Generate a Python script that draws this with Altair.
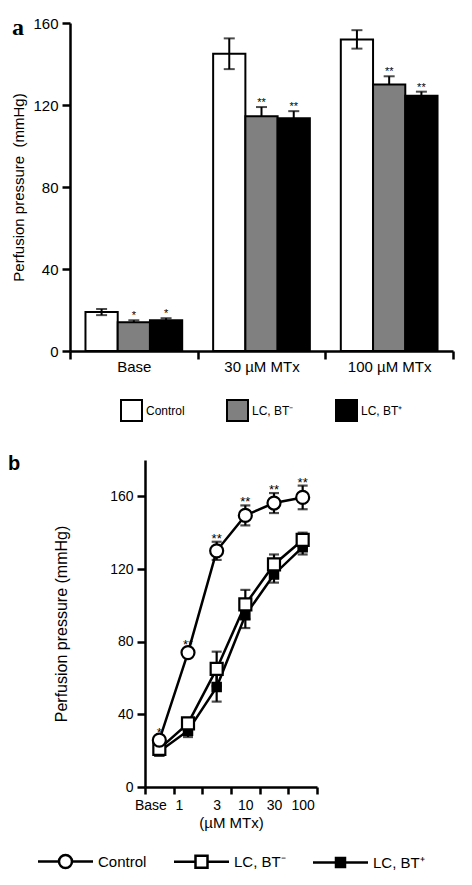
import altair as alt
import pandas as pd

FONT = "Liberation Sans"

# ---------------- Panel a data ----------------
groups = ["Base", "30 µM MTx", "100 µM MTx"]
series = ["Control", "LC, BT⁻", "LC, BT⁺"]

a_control = [19, 145, 152]
a_control_sem = [1.5, 7.5, 4.5]
a_control_sig = ["", "", ""]
a_btminus = [14, 114.5, 130]
a_btminus_sem = [1, 4.5, 4]
a_btminus_sig = ["*", "**", "**"]
a_btplus = [15, 113.5, 124.5]
a_btplus_sem = [1, 3.5, 2]
a_btplus_sig = ["*", "**", "**"]

# ---------------- Panel b data ----------------
doses = ["Base", "1", "3", "10", "30", "100"]
b_control = [25.8, 74, 130, 149.5, 156.3, 159.4]
b_control_sem = [2, 2.5, 5, 5.5, 5.5, 6.5]
b_control_sig = ["*", "**", "**", "**", "**", "**"]
b_btminus = [21, 35, 65, 100.5, 122.5, 136]
b_btminus_sem = [1.5, 3, 9.5, 8, 5.5, 4]
b_btplus = [19.5, 31, 55, 94.5, 117, 132]
b_btplus_sem = [1.5, 3.5, 8, 7, 4.5, 4]

# ---------------- Tables ----------------
rows_a = []
for s, means, sems, sigs in [
    (series[0], a_control, a_control_sem, a_control_sig),
    (series[1], a_btminus, a_btminus_sem, a_btminus_sig),
    (series[2], a_btplus, a_btplus_sem, a_btplus_sig),
]:
    for g, m, e, t in zip(groups, means, sems, sigs):
        rows_a.append({"group": g, "series": s, "mean": m, "sem": e, "sig": t,
                       "lo": m - e if s == series[0] else m, "hi": m + e})
dfa = pd.DataFrame(rows_a)

rows_b = []
for s, means, sems in [
    (series[0], b_control, b_control_sem),
    (series[1], b_btminus, b_btminus_sem),
    (series[2], b_btplus, b_btplus_sem),
]:
    for i, (d, m, e) in enumerate(zip(doses, means, sems)):
        rows_b.append({"dose": d, "curve": s, "mean": m, "lo": m - e, "hi": m + e,
                       "sig": b_control_sig[i] if s == series[0] else ""})
dfb = pd.DataFrame(rows_b)

# ---------------- Panel a ----------------
axis_style = dict(tickColor="black", domainColor="black", labelColor="black",
                  titleColor="black", tickWidth=2.5, domainWidth=2.5,
                  labelFont=FONT, titleFont=FONT, titleFontWeight="normal")

xa_axis = alt.Axis(tickBand="extent", labelAngle=0, labelFontSize=15, labelPadding=0,
                   tickSize=8, title=None, **axis_style)
xa = alt.X("group:N", sort=groups, title=None,
           scale=alt.Scale(type="band", paddingInner=0, paddingOuter=0), axis=xa_axis)
xoa = alt.XOffset("series:N", sort=series,
                  scale=alt.Scale(domain=series, paddingInner=0, paddingOuter=0.48))
ya_title = "Perfusion pressure\u00a0 (mmHg)"
ya_axis = alt.Axis(values=[0, 40, 80, 120, 160], grid=False, labelFontSize=15,
                   titleFontSize=15, labelPadding=4, titlePadding=6, tickSize=8,
                   **axis_style)
ya_scale = alt.Scale(domain=[0, 160], nice=False)

legend_a = alt.Legend(title=None, orient="none", legendX=50, legendY=376,
                      direction="horizontal", symbolType="square", symbolSize=441,
                      symbolStrokeColor="black", symbolStrokeWidth=2,
                      labelFontSize=12, labelFont=FONT, labelColor="black",
                      labelOffset=3, columnPadding=38, padding=0)

base_a = alt.Chart(dfa)
bars = base_a.mark_bar(stroke="black", strokeWidth=2).encode(
    x=xa, xOffset=xoa,
    y=alt.Y("mean:Q", title=ya_title, scale=ya_scale, axis=ya_axis),
    fill=alt.Fill("series:N", sort=series,
                  scale=alt.Scale(domain=series, range=["white", "#808080", "black"]),
                  legend=legend_a),
)
err_a = base_a.mark_rule(color="black", strokeWidth=2).encode(
    x=xa, xOffset=xoa,
    y=alt.Y("lo:Q", title=ya_title, scale=ya_scale, axis=ya_axis), y2="hi:Q",
)
cap_hi_a = base_a.mark_tick(color="black", thickness=2, size=11, orient="horizontal").encode(
    x=xa, xOffset=xoa, y=alt.Y("hi:Q", title=ya_title, scale=ya_scale, axis=ya_axis),
)
cap_lo_a = base_a.transform_filter(alt.datum.series == series[0]).mark_tick(
    color="black", thickness=2, size=11, orient="horizontal").encode(
    x=xa, xOffset=xoa, y=alt.Y("lo:Q", title=ya_title, scale=ya_scale, axis=ya_axis),
)
stars_a = base_a.mark_text(baseline="alphabetic", dy=-1, fontSize=11, font=FONT,
                           color="black").encode(
    x=xa, xOffset=xoa, y=alt.Y("hi:Q", title=ya_title, scale=ya_scale, axis=ya_axis),
    text="sig:N",
)

panel_a = alt.layer(bars, err_a, cap_hi_a, cap_lo_a, stars_a).properties(
    width=383, height=328,
    view=alt.ViewBackground(stroke=None),
    title=alt.TitleParams("a", anchor="start", frame="bounds", font="Liberation Serif",
                          fontSize=24, fontWeight="bold", color="black", offset=-24),
)

# ---------------- Panel b ----------------
xb_axis = alt.Axis(tickBand="extent", labelAngle=0, labelFontSize=14, labelPadding=4,
                   titleFontSize=15, titlePadding=3, tickSize=7,
                   labelOffset={"condition": {"test": "datum.value === 'Base' || datum.value === '1'",
                                              "value": -9},
                                "value": 0},
                   **axis_style)
xb = alt.X("dose:N", sort=doses, title="(µM MTx)",
           scale=alt.Scale(type="band", domain=doses, paddingInner=0, paddingOuter=0,
                           range=[75, 247]),
           axis=xb_axis)
yb_title = "Perfusion pressure (mmHg)"
yb_axis = alt.Axis(values=[0, 40, 80, 120, 160], grid=False, labelFontSize=14,
                   titleFontSize=16, labelPadding=4, titlePadding=40, tickSize=8,
                   offset=-75, **axis_style)
yb_scale = alt.Scale(domain=[0, 180], nice=False)

def yb(field):
    return alt.Y(field, title=yb_title, scale=yb_scale, axis=yb_axis)

path_ctrl = ("M-2.75,0H-0.65M0.65,0H2.75"
             "M-0.65,0A0.65,0.65 0 1,1 0.65,0A0.65,0.65 0 1,1 -0.65,0Z")
path_minus = "M-2.75,0H-0.6M0.6,0H2.75M-0.6,-0.6H0.6V0.6H-0.6Z"
path_plus = "M-2.75,0H2.75M-0.45,-0.45H0.45V0.45H-0.45Z"

legend_b = alt.Legend(title=None, orient="none", legendX=-16, legendY=390,
                      direction="horizontal", symbolSize=400,
                      symbolStrokeColor="black", symbolStrokeWidth=2.5, symbolOpacity=1,
                      labelFontSize=15, labelFont=FONT, labelColor="black",
                      labelOffset=21, columnPadding=22, padding=0)

base_b = alt.Chart(dfb)
lines_b = base_b.mark_line(color="black", strokeWidth=2.5).encode(
    x=xb, y=yb("mean:Q"), detail="curve:N")
err_b = base_b.mark_rule(color="black", strokeWidth=2.2).encode(
    x=xb, y=yb("lo:Q"), y2="hi:Q")
caps_b_hi = base_b.mark_tick(color="black", thickness=2.2, size=10, orient="horizontal").encode(
    x=xb, y=yb("hi:Q"))
caps_b_lo = base_b.mark_tick(color="black", thickness=2.2, size=10, orient="horizontal").encode(
    x=xb, y=yb("lo:Q"))
pts_plus = base_b.transform_filter(alt.datum.curve == series[2]).mark_point(
    shape="square", size=81, filled=True, fill="black", stroke="black", strokeWidth=1.5,
    opacity=1).encode(x=xb, y=yb("mean:Q"))
pts_minus = base_b.transform_filter(alt.datum.curve == series[1]).mark_point(
    shape="square", size=144, filled=True, fill="white", stroke="black", strokeWidth=2.2,
    opacity=1).encode(x=xb, y=yb("mean:Q"))
pts_ctrl = base_b.transform_filter(alt.datum.curve == series[0]).mark_point(
    shape="circle", size=169, filled=True, fill="white", stroke="black", strokeWidth=2.2,
    opacity=1).encode(x=xb, y=yb("mean:Q"))
stars_b = base_b.transform_filter(alt.datum.curve == series[0]).mark_text(
    baseline="alphabetic", dy=1, fontSize=13, font=FONT, color="black").encode(
    x=xb, y=yb("hi:Q"), text="sig:N")
legend_layer = base_b.mark_point(opacity=0, filled=True, strokeWidth=2.5,
                                 size=400).encode(
    x=xb, y=yb("mean:Q"),
    shape=alt.Shape("curve:N", sort=series,
                    scale=alt.Scale(domain=series, range=[path_ctrl, path_minus, path_plus]),
                    legend=legend_b),
    fill=alt.Fill("curve:N", sort=series,
                  scale=alt.Scale(domain=series, range=["white", "white", "black"]),
                  legend=legend_b),
    stroke=alt.Stroke("curve:N", sort=series,
                      scale=alt.Scale(domain=series, range=["black", "black", "black"]),
                      legend=legend_b),
)

panel_b = alt.layer(legend_layer, lines_b, err_b, caps_b_hi, caps_b_lo,
                    pts_plus, pts_minus, pts_ctrl, stars_b).properties(
    width=247, height=327,
    view=alt.ViewBackground(stroke=None),
    title=alt.TitleParams("b", anchor="start", frame="group", font=FONT, fontSize=20,
                          fontWeight="bold", color="black", dx=-62, offset=-14),
)

indep = dict(fill="independent", shape="independent", stroke="independent")

chart = alt.vconcat(
    panel_a,
    panel_b,
    spacing=29,
).resolve_scale(**indep).resolve_legend(**indep).properties(
    padding={"left": 0, "top": 8, "right": 0, "bottom": 0},
).configure(font=FONT).configure_view(stroke=None)

chart.save("out.html", embed_options={"renderer": "svg", "actions": False})
